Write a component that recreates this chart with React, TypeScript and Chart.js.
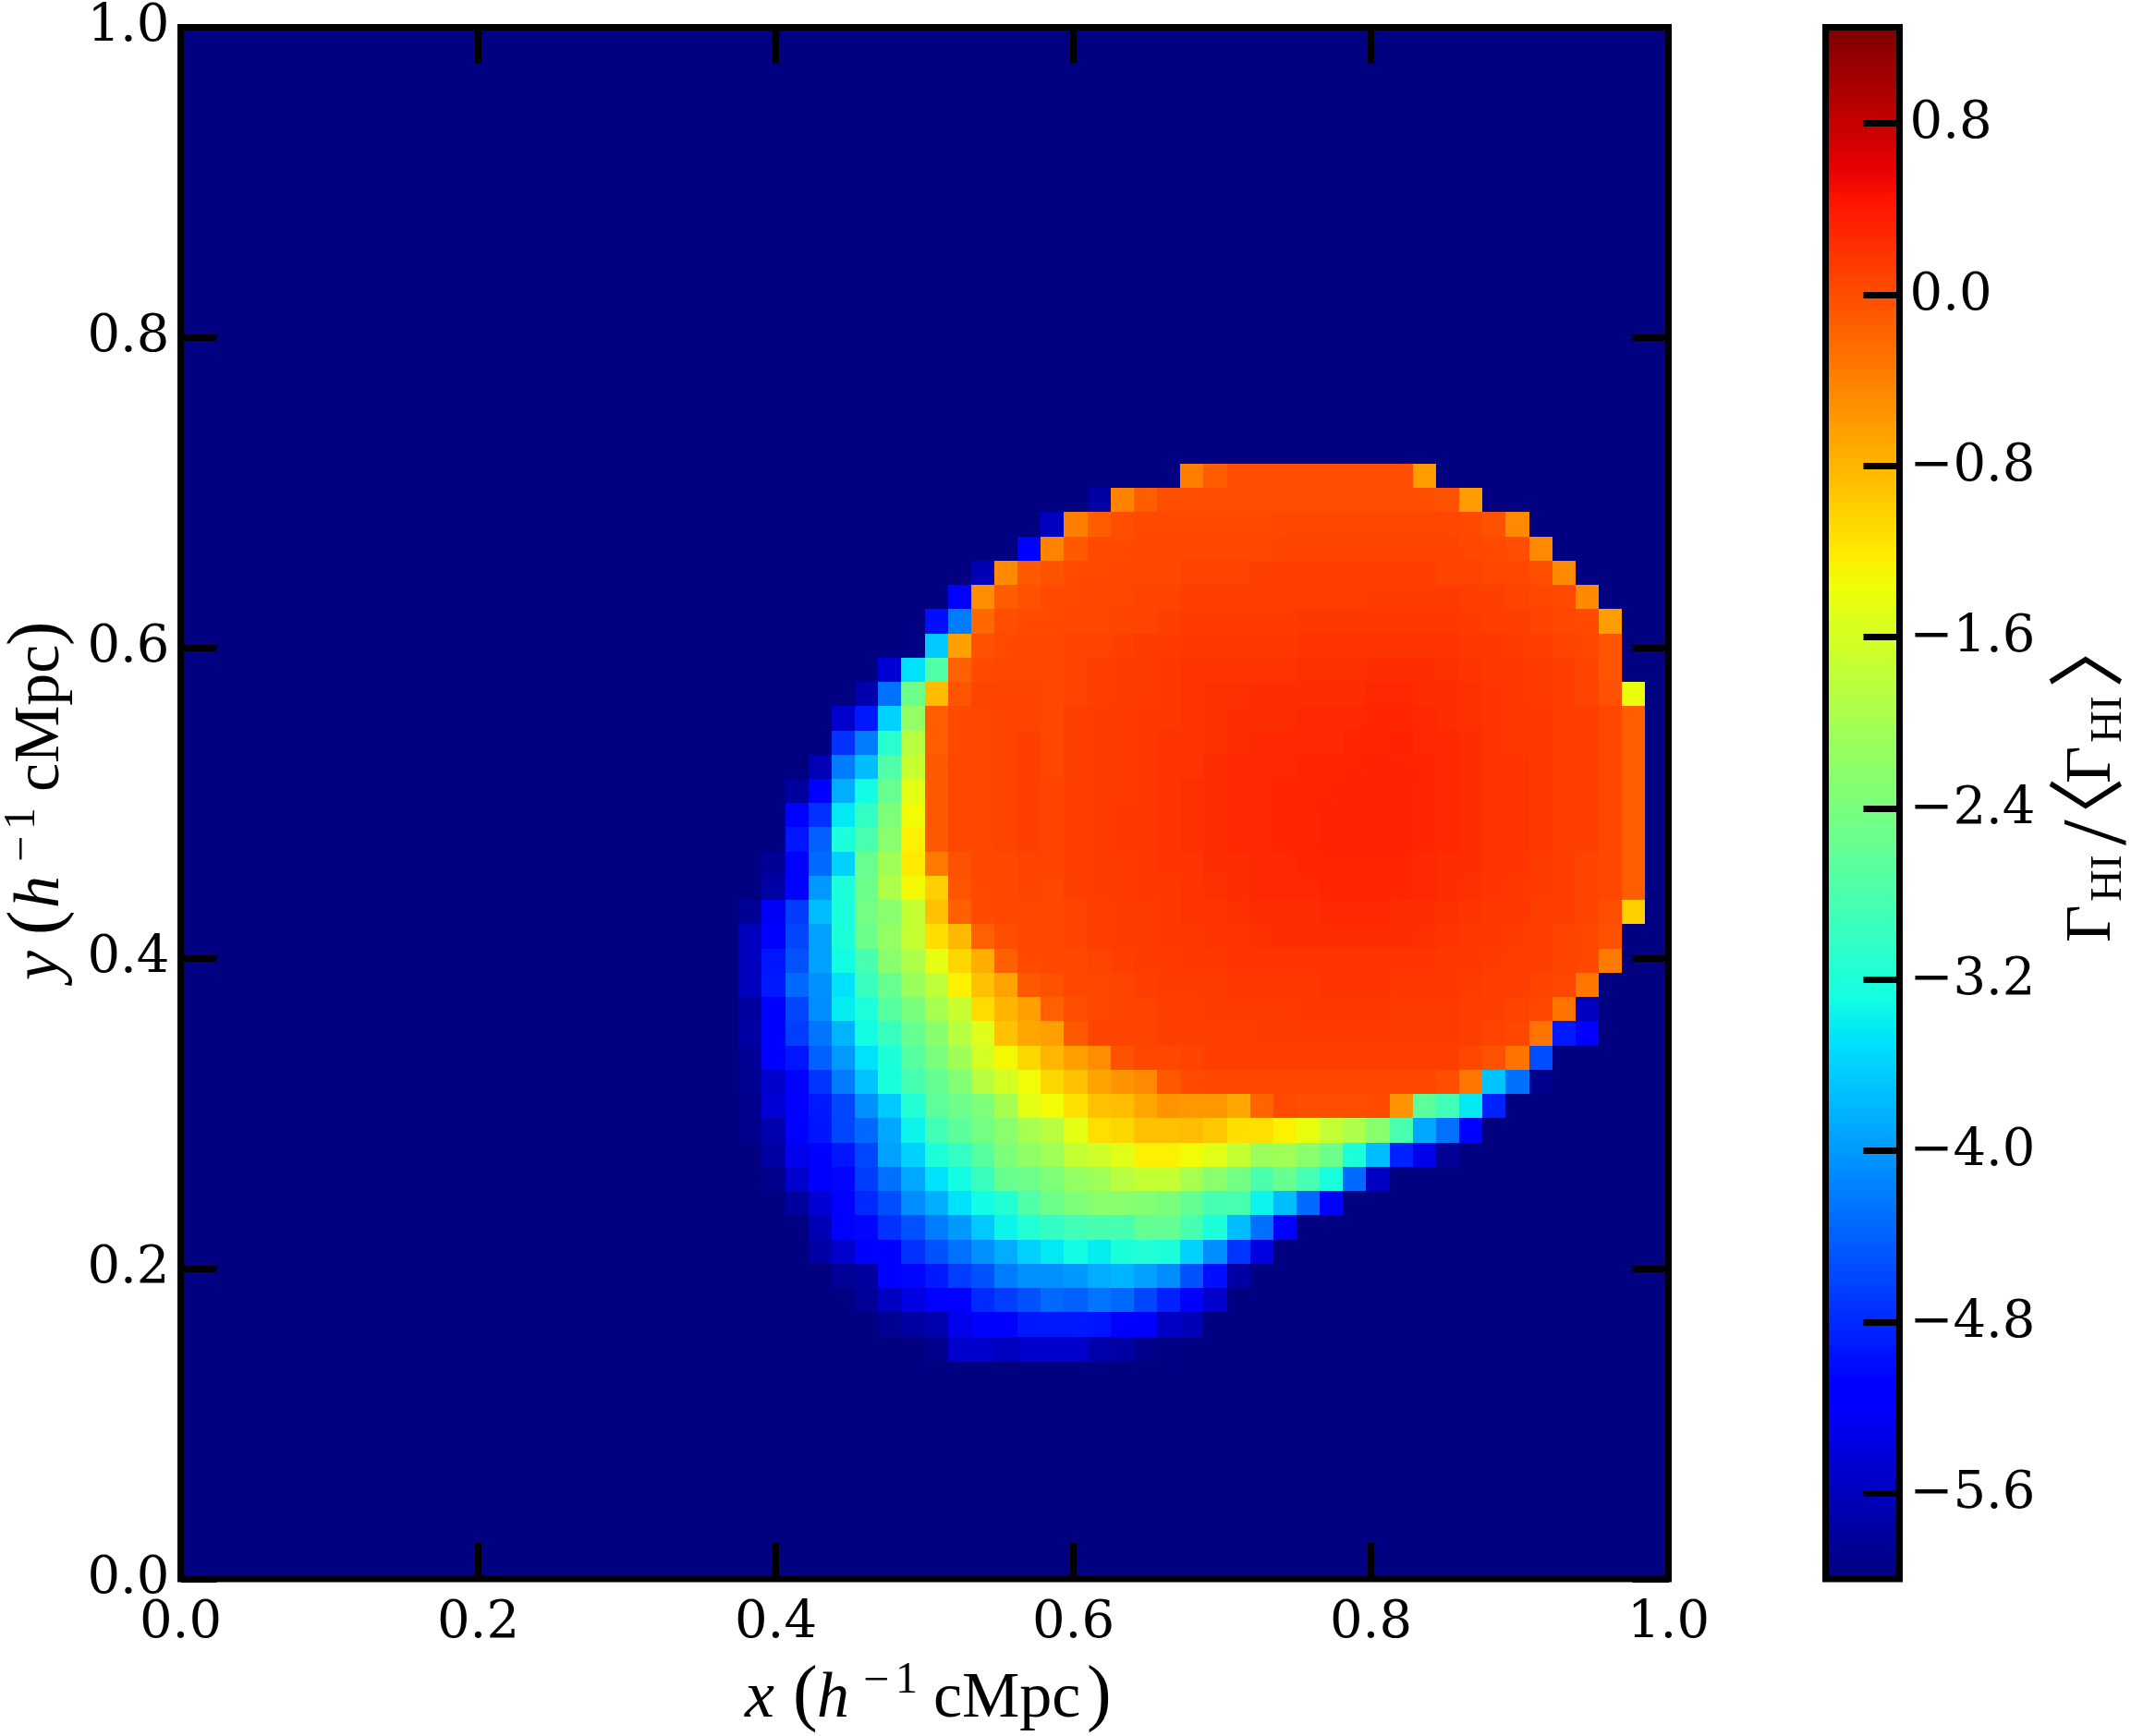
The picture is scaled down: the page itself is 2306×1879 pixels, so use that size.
import React, { useEffect, useRef } from "react";
import { Chart, registerables } from "chart.js";

Chart.register(...registerables);

// ---------- data ----------
const gridSize = 64;
const backgroundValue = -6;
const colorMin = -6;
const colorMax = 1.25;
const axisTicks = [0, 0.2, 0.4, 0.6, 0.8, 1.0];
const colorbarTicks = [-5.6, -4.8, -4.0, -3.2, -2.4, -1.6, -0.8, 0.0, 0.8];

// first image row (counted from the top) that holds non-background cells
const firstRow = 18;
// first column of each of those rows
const firstColumns = [43, 39, 37, 36, 34, 33, 32, 31, 30, 29, 28, 28, 27, 26, 26, 26, 25, 25, 24, 24, 24, 24, 24, 24, 24, 24, 24, 24, 25, 25, 26, 27, 27, 28, 29, 30, 32];
// log10 photoionisation contrast of each cell, row by row
const rowValues: number[][] = [
  [-.38, -.12, -.02, -.02, -.02, -.02, -.02, -.02, -.02, -.02, -.6],
  [-5.75, -.4, -.12, -.02, -.02, -.01, -.01, -.01, -.01, -.01, 0, 0, 0, 0, 0, -.05, -.6],
  [-5.6, -.38, -.12, -.02, .01, .01, .03, .03, .03, .03, .04, .04, .04, .04, .04, .04, .04, .04, .02, -.05, -.45],
  [-5.1, -.4, -.1, .02, .03, .05, .05, .05, .06, .06, .06, .07, .07, .08, .08, .08, .08, .08, .07, .06, .03, -.02, -.45],
  [-5.65, -.45, -.1, -.05, .02, .03, .05, .05, .05, .07, .07, .07, .09, .09, .09, .09, .09, .1, .1, .1, .08, .08, .06, .05, -.02, -.45],
  [-5.1, -.5, -.12, -.03, .03, .03, .05, .05, .07, .07, .11, .11, .11, .11, .11, .11, .11, .11, .12, .12, .12, .12, .1, .09, .08, .05, .02, -.45],
  [-5.0, -4.2, -.2, -.02, .03, .03, .05, .05, .08, .08, .11, .13, .13, .13, .13, .13, .17, .17, .17, .16, .16, .16, .15, .13, .11, .1, .07, .05, .03, -.6],
  [-5.95, -3.65, -.63, -.05, .03, .05, .05, .08, .08, .1, .12, .14, .17, .17, .17, .17, .17, .19, .19, .19, .2, .2, .2, .19, .17, .15, .13, .1, .08, .06, -.07],
  [-5.45, -3.5, -2.75, -.15, .03, .04, .06, .05, .08, .1, .12, .14, .16, .18, .18, .18, .2, .2, .22, .22, .22, .24, .24, .24, .22, .19, .17, .15, .13, .09, .07, -.08],
  [-5.7, -4.3, -2.5, -.87, -.08, .08, .08, .08, .05, .08, .1, .12, .14, .17, .19, .22, .22, .24, .24, .24, .24, .24, .27, .27, .25, .24, .22, .19, .17, .13, .1, .08, -.03, -1.4],
  [-5.5, -4.9, -3.6, -2.15, -.12, .02, .06, .08, .08, .06, .1, .12, .14, .15, .17, .19, .22, .24, .25, .25, .27, .27, .27, .3, .3, .27, .25, .22, .2, .17, .15, .11, .09, .05, -.12],
  [-4.75, -4.2, -3.1, -1.85, -.12, .02, .06, .08, .1, .06, .1, .12, .14, .17, .19, .2, .22, .25, .27, .27, .28, .28, .3, .3, .32, .28, .27, .24, .2, .17, .15, .11, .09, .05, -.12],
  [-5.65, -4.2, -3.75, -2.75, -1.7, -.1, .05, .06, .08, .11, .06, .1, .12, .14, .17, .19, .2, .25, .27, .28, .28, .31, .31, .31, .33, .31, .3, .28, .25, .2, .19, .15, .11, .09, .06, -.12],
  [-5.8, -5.1, -3.85, -3.3, -2.55, -1.45, -.1, .05, .06, .08, .11, .07, .1, .12, .14, .17, .19, .22, .25, .27, .28, .3, .31, .31, .33, .33, .33, .31, .28, .25, .2, .19, .15, .11, .09, .06, -.12],
  [-5.2, -4.75, -3.45, -3.0, -2.35, -1.35, -.1, .05, .06, .08, .1, .07, .1, .12, .15, .17, .19, .22, .25, .27, .28, .3, .31, .33, .33, .33, .33, .3, .27, .24, .2, .19, .15, .11, .09, .06, -.12],
  [-4.95, -4.4, -3.2, -2.8, -2.25, -1.27, -.1, .04, .06, .08, .1, .07, .1, .12, .15, .17, .19, .22, .25, .27, .28, .3, .31, .33, .33, .33, .33, .3, .27, .24, .2, .19, .15, .11, .09, .06, -.12],
  [-5.85, -5.15, -4.35, -3.6, -2.55, -2.05, -1.2, -.35, -.05, .05, .06, .08, .07, .1, .12, .14, .17, .19, .2, .24, .25, .27, .28, .3, .31, .31, .31, .3, .28, .25, .24, .2, .19, .13, .1, .08, .06, -.12],
  [-5.75, -5.1, -4.0, -3.2, -2.5, -1.95, -1.32, -1.0, -.08, .02, .06, .08, .06, .1, .12, .14, .15, .17, .2, .22, .25, .27, .28, .28, .3, .3, .3, .3, .27, .24, .22, .19, .17, .13, .1, .08, .06, -.12],
  [-5.85, -5.25, -4.65, -3.75, -3.25, -2.45, -2.25, -1.75, -.9, -.15, .02, .06, .06, .06, .08, .1, .12, .14, .17, .19, .2, .22, .24, .25, .25, .27, .27, .27, .25, .24, .22, .19, .17, .15, .11, .09, .07, -.02, -1.0],
  [-5.6, -5.1, -4.6, -3.95, -3.2, -2.5, -2.15, -1.75, -1.12, -.82, -.15, -.02, .06, .05, .08, .1, .12, .14, .15, .17, .19, .2, .22, .24, .24, .25, .25, .25, .24, .22, .19, .17, .15, .13, .11, .08, .05, -.05],
  [-5.6, -4.95, -4.5, -3.95, -3.3, -2.85, -2.25, -1.95, -1.45, -1.05, -.75, -.15, .02, .05, .06, .08, .1, .12, .14, .15, .17, .19, .19, .2, .2, .2, .2, .2, .2, .19, .17, .15, .13, .11, .09, .08, .04, -.35],
  [-5.6, -4.9, -4.35, -4.05, -3.5, -2.95, -2.55, -2.1, -1.8, -1.25, -.9, -.65, -.1, -.05, .05, .06, .08, .1, .12, .14, .14, .15, .15, .17, .17, .19, .19, .19, .17, .15, .15, .13, .11, .09, .07, .04, -.33],
  [-5.8, -5.1, -4.6, -4.1, -3.4, -3.2, -2.7, -2.4, -2.0, -1.7, -1.1, -.8, -.62, -.15, -.02, .06, .08, .08, .1, .1, .12, .12, .14, .14, .15, .15, .15, .15, .14, .14, .14, .11, .09, .07, .05, -.3, -5.6],
  [-5.75, -5.1, -4.65, -4.25, -3.8, -3.3, -2.95, -2.55, -2.25, -1.85, -1.5, -.9, -.7, -.63, -.1, .07, .08, .08, .1, .1, .1, .11, .12, .12, .13, .14, .14, .14, .12, .12, .12, .09, .08, .04, -.3, -4.9, -5.1],
  [-5.85, -5.1, -4.95, -4.4, -4.0, -3.5, -3.2, -2.7, -2.4, -2.05, -1.6, -1.32, -1.05, -.8, -.63, -.5, -.05, .06, .06, .08, .09, .09, .09, .1, .1, .1, .1, .1, .1, .09, .09, .06, -.05, -.3, -4.55],
  [-5.88, -5.5, -5.1, -4.7, -4.2, -3.7, -3.25, -2.85, -2.6, -2.3, -1.85, -1.6, -1.35, -1.05, -.9, -.65, -.55, -.45, -.1, .03, .05, .05, .05, .05, .06, .06, .06, .04, .04, .04, -.02, -.33, -3.7, -4.3, -5.9],
  [-5.9, -5.45, -5.15, -4.9, -4.6, -4.05, -3.65, -3.15, -2.65, -2.5, -2.35, -2.0, -1.45, -1.35, -1.15, -.9, -.85, -.68, -.55, -.58, -.58, -.7, -.18, .03, 0, 0, 0, .01, -.55, -2.65, -2.9, -3.45, -4.85],
  [-5.9, -5.7, -5.2, -4.95, -4.6, -4.35, -3.9, -3.35, -2.9, -2.65, -2.45, -2.25, -2.0, -1.85, -1.45, -1.12, -1.05, -.9, -.9, -.87, -.95, -1.12, -1.12, -1.27, -1.42, -1.75, -1.95, -2.25, -2.8, -3.9, -4.3, -5.1],
  [-5.75, -5.3, -5.1, -4.95, -4.6, -3.95, -3.6, -3.2, -3.0, -2.7, -2.35, -2.2, -2.05, -1.75, -1.65, -1.47, -1.27, -1.27, -1.33, -1.47, -1.75, -2.1, -2.05, -2.25, -2.5, -3.2, -3.75, -4.85, -5.3, -5.85],
  [-5.9, -5.5, -5.15, -5.05, -4.65, -4.3, -3.9, -3.5, -3.3, -2.95, -2.55, -2.5, -2.35, -2.15, -2.05, -1.85, -1.75, -1.75, -2.0, -2.25, -2.45, -2.8, -2.55, -2.85, -3.25, -4.35, -5.55],
  [-5.8, -5.45, -5.1, -4.8, -4.55, -4.1, -3.85, -3.5, -3.3, -3.15, -2.75, -2.5, -2.35, -2.25, -2.25, -2.3, -2.4, -2.6, -2.85, -2.85, -3.35, -3.75, -4.35, -5.1],
  [-5.65, -5.1, -5.05, -4.75, -4.5, -4.2, -4.0, -3.65, -3.35, -3.15, -3.0, -2.9, -2.8, -2.85, -2.6, -2.6, -2.85, -3.2, -3.75, -4.3, -5.1],
  [-5.75, -5.5, -5.2, -5.1, -4.75, -4.5, -4.3, -4.05, -3.85, -3.6, -3.45, -3.3, -3.4, -3.2, -3.15, -3.2, -3.6, -4.1, -4.7, -5.35],
  [-5.85, -5.8, -5.1, -5.05, -4.9, -4.65, -4.5, -4.2, -4.05, -4.05, -4.0, -3.85, -3.8, -3.95, -4.1, -4.5, -5.0, -5.75],
  [-5.85, -5.55, -5.35, -5.15, -5.1, -4.8, -4.65, -4.5, -4.35, -4.4, -4.25, -4.35, -4.6, -4.85, -5.1, -5.5],
  [-5.88, -5.75, -5.7, -5.3, -5.15, -5.12, -4.9, -4.9, -4.9, -4.95, -5.1, -5.2, -5.55, -5.65],
  [-5.9, -5.5, -5.5, -5.6, -5.5, -5.5, -5.5, -5.7, -5.75, -5.9, -5.96],
];

// jet colormap anchors
const jetRed = [[0, 0], [.35, 0], [.66, 1], [.89, 1], [1, .5]];
const jetGreen = [[0, 0], [.125, 0], [.375, 1], [.64, 1], [.91, 0], [1, 0]];
const jetBlue = [[0, .5], [.11, 1], [.34, 1], [.65, 0], [1, 0]];

// ---------- styling ----------
const serif = '"DejaVu Serif"';
const roman = '"Liberation Serif"';
const cjk = '"Noto Sans CJK JP"';
const tickFont = { family: serif, size: 56 };
const lineW = 7;
const tickLen = 39;
const W = 2306;
const H = 1879;
const mainW = 1900;
const areaLeft = 195.5;
const areaRight = 1805.5;
const areaTop = 29.5;
const areaBottom = 1709;
const cbLeft = 1975.5;
const cbRight = 2055.5;

type Run = { text: string; font: string; at: number; shift?: number };
const axisRuns = (openAt: number, closeAt: number): Run[] => [
  { text: "(", font: `80px ${roman}`, at: openAt },
  { text: "h", font: `italic 70px ${roman}`, at: 78 },
  { text: "\u2212", font: `50px ${roman}`, at: 128, shift: -24 },
  { text: "1", font: `48px ${roman}`, at: 163, shift: -26 },
  { text: "cMpc", font: `70px ${roman}`, at: 204 },
  { text: ")", font: `80px ${roman}`, at: closeAt },
];
const colorbarRuns: Run[] = [
  { text: "\u0393", font: `70px ${roman}`, at: 0 },
  { text: "HI", font: `48px ${roman}`, at: 44, shift: 12 },
  { text: "/", font: `100px ${roman}`, at: 105, shift: 16 },
  { text: "\u3008", font: `84px ${cjk}`, at: 95, shift: 6 },
  { text: "\u0393", font: `70px ${roman}`, at: 172 },
  { text: "HI", font: `48px ${roman}`, at: 216, shift: 12 },
  { text: "\u3009", font: `84px ${cjk}`, at: 275, shift: 6 },
];

function drawRuns(ctx: CanvasRenderingContext2D, runs: Run[], x: number, y: number, vertical: boolean) {
  ctx.save();
  ctx.translate(x, y);
  if (vertical) ctx.rotate(-Math.PI / 2);
  ctx.fillStyle = "#000";
  ctx.textBaseline = "alphabetic";
  ctx.textAlign = "left";
  for (const r of runs) {
    ctx.font = r.font;
    ctx.fillText(r.text, r.at, r.shift ?? 0);
  }
  ctx.restore();
}

function segment(table: number[][], t: number) {
  for (let i = 1; i < table.length; i++) {
    if (t <= table[i][0]) {
      const [a, va] = table[i - 1];
      const [b, vb] = table[i];
      return va + ((vb - va) * (t - a)) / (b - a);
    }
  }
  return table[table.length - 1][1];
}
function jet(t: number) {
  const c = Math.max(0, Math.min(1, t));
  const q = Math.floor(c * 255.999) / 255;
  const ch = (tb: number[][]) => Math.round(255 * segment(tb, q));
  return `rgb(${ch(jetRed)},${ch(jetGreen)},${ch(jetBlue)})`;
}
const colorOf = (v: number) => jet((v - colorMin) / (colorMax - colorMin));

function buildCells() {
  const grid: number[][] = Array.from({ length: gridSize }, () => new Array(gridSize).fill(backgroundValue));
  rowValues.forEach((vals, i) => {
    vals.forEach((v, k) => {
      grid[firstRow + i][firstColumns[i] + k] = v;
    });
  });
  const cells: { x: number; y: number; v: number }[] = [];
  grid.forEach((row, r) =>
    row.forEach((v, c) => cells.push({ x: (c + 0.5) / gridSize, y: 1 - (r + 0.5) / gridSize, v }))
  );
  return cells;
}

const fixSize = (size: number) => (scale: any) => {
  if (scale.isHorizontal()) scale.height = size;
  else scale.width = size;
  scale.paddingLeft = scale.paddingRight = scale.paddingTop = scale.paddingBottom = 0;
};

const tickGrid = {
  display: true,
  drawOnChartArea: false,
  drawTicks: true,
  tickLength: -tickLen,
  tickWidth: lineW,
  tickColor: "#000",
  z: 1,
};

const frameFor = (id: string) => ({
  id,
  afterDraw(chart: any) {
    const { ctx, chartArea: a } = chart;
    ctx.save();
    ctx.strokeStyle = "#000";
    ctx.lineWidth = lineW;
    ctx.strokeRect(a.left, a.top, a.right - a.left, a.bottom - a.top);
    ctx.restore();
  },
});

const heatmapPlugin = {
  id: "heatmap",
  beforeDatasetsDraw(chart: any) {
    const { ctx, scales } = chart;
    const half = 0.5 / gridSize;
    for (const d of chart.data.datasets[0].data) {
      const x0 = Math.round(scales.x.getPixelForValue(d.x - half));
      const x1 = Math.round(scales.x.getPixelForValue(d.x + half));
      const y0 = Math.round(scales.y.getPixelForValue(d.y + half));
      const y1 = Math.round(scales.y.getPixelForValue(d.y - half));
      ctx.fillStyle = colorOf(d.v);
      ctx.fillRect(x0, y0, x1 - x0, y1 - y0);
    }
  },
  afterDraw(chart: any) {
    drawRuns(chart.ctx, [{ text: "x", font: `italic 72px ${roman}`, at: 0 }, ...axisRuns(52, 370)], 806, 1858, false);
    drawRuns(chart.ctx, [{ text: "y", font: `italic 72px ${roman}`, at: 0 }, ...axisRuns(49, 362)], 63, 1061, true);
  },
};

const colorbarPlugin = {
  id: "colorbar",
  beforeDatasetsDraw(chart: any) {
    const { ctx, scales, chartArea: a } = chart;
    const step = (colorMax - colorMin) / 256;
    for (const d of chart.data.datasets[0].data) {
      const y0 = Math.round(scales.y.getPixelForValue(d.y + step / 2));
      const y1 = Math.round(scales.y.getPixelForValue(d.y - step / 2));
      ctx.fillStyle = colorOf(d.y);
      ctx.fillRect(a.left, y0, a.right - a.left, y1 - y0);
    }
  },
  afterDraw(chart: any) {
    drawRuns(chart.ctx, colorbarRuns, 2283 - mainW, 1020, true);
  },
};

export default function App() {
  const mainRef = useRef<HTMLCanvasElement>(null);
  const barRef = useRef<HTMLCanvasElement>(null);

  useEffect(() => {
    document.body.style.margin = "0";
    document.body.style.background = "#fff";
    const fmt = (v: any) => Number(v).toFixed(1);
    const main = new Chart(mainRef.current!, {
      type: "scatter",
      data: { datasets: [{ data: buildCells() as any, pointRadius: 0, pointHoverRadius: 0 }] },
      options: {
        responsive: false,
        animation: false,
        devicePixelRatio: 1,
        events: [],
        layout: { padding: { top: areaTop, right: mainW - areaRight, left: 0, bottom: 0 } },
        plugins: { legend: { display: false }, tooltip: { enabled: false }, title: { display: false } },
        scales: {
          x: {
            type: "linear", position: "bottom", min: 0, max: 1,
            afterBuildTicks: (s: any) => { s.ticks = axisTicks.map((value) => ({ value })); },
            afterFit: fixSize(H - areaBottom),
            grid: tickGrid, border: { display: false },
            ticks: { font: tickFont, color: "#000", padding: 54, autoSkip: false, maxRotation: 0, callback: fmt },
          },
          y: {
            type: "linear", position: "left", min: 0, max: 1,
            afterBuildTicks: (s: any) => { s.ticks = axisTicks.map((value) => ({ value })); },
            afterFit: fixSize(areaLeft),
            grid: tickGrid, border: { display: false },
            ticks: { font: tickFont, color: "#000", padding: 51, labelOffset: 0, autoSkip: false, callback: fmt },
          },
          x2: {
            type: "linear", position: "top", min: 0, max: 1,
            afterBuildTicks: (s: any) => { s.ticks = axisTicks.map((value) => ({ value })); },
            afterFit: fixSize(0),
            grid: tickGrid, border: { display: false },
            ticks: { display: false },
          },
          y2: {
            type: "linear", position: "right", min: 0, max: 1,
            afterBuildTicks: (s: any) => { s.ticks = axisTicks.map((value) => ({ value })); },
            afterFit: fixSize(0),
            grid: tickGrid, border: { display: false },
            ticks: { display: false },
          },
        },
      } as any,
      plugins: [heatmapPlugin, frameFor("mainFrame")],
    });

    const levels = Array.from({ length: 256 }, (_, i) => ({
      x: 0.5,
      y: colorMin + ((i + 0.5) * (colorMax - colorMin)) / 256,
    }));
    const bar = new Chart(barRef.current!, {
      type: "scatter",
      data: { datasets: [{ data: levels as any, pointRadius: 0, pointHoverRadius: 0 }] },
      options: {
        responsive: false,
        animation: false,
        devicePixelRatio: 1,
        events: [],
        layout: { padding: { top: areaTop, bottom: H - areaBottom, left: cbLeft - mainW, right: 0 } },
        plugins: { legend: { display: false }, tooltip: { enabled: false }, title: { display: false } },
        scales: {
          x: { type: "linear", display: false, min: 0, max: 1 },
          y: {
            type: "linear", position: "right", min: colorMin, max: colorMax,
            afterBuildTicks: (s: any) => { s.ticks = colorbarTicks.map((value) => ({ value })); },
            afterFit: fixSize(W - cbRight),
            grid: tickGrid, border: { display: false },
            ticks: {
              font: tickFont, color: "#000", padding: 50, labelOffset: 1, autoSkip: false,
              callback: (v: any) => Number(v).toFixed(1).replace("-", "\u2212"),
            },
          },
        },
      } as any,
      plugins: [colorbarPlugin, frameFor("barFrame")],
    });
    return () => {
      main.destroy();
      bar.destroy();
    };
  }, []);

  return (
    <div style={{ position: "relative", width: W, height: H, background: "#fff" }}>
      <canvas ref={mainRef} width={mainW} height={H} style={{ position: "absolute", left: 0, top: 0 }} />
      <canvas ref={barRef} width={W - mainW} height={H} style={{ position: "absolute", left: mainW, top: 0 }} />
    </div>
  );
}
